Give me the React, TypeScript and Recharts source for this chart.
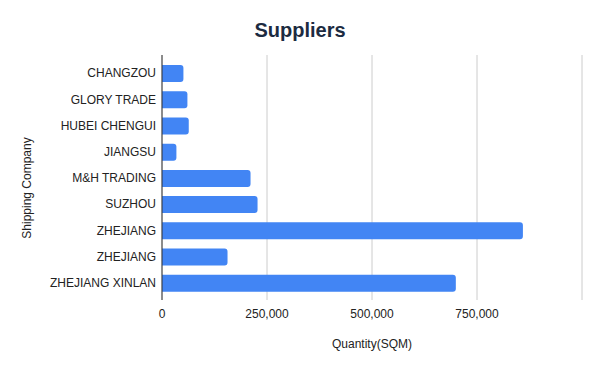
import React from "react";
import { BarChart, Bar, XAxis, YAxis, CartesianGrid } from "recharts";

// Supplier names, in display order (top to bottom)
const companies = [
  "CHANGZOU",
  "GLORY TRADE",
  "HUBEI CHENGUI",
  "JIANGSU",
  "M&H TRADING",
  "SUZHOU",
  "ZHEJIANG",
  "ZHEJIANG",
  "ZHEJIANG XINLAN",
];

// Quantity shipped by each supplier, in square metres
const quantities = [51000, 60500, 63700, 34300, 210800, 227500, 859300, 156000, 699600];

const xTicks = [0, 250000, 500000, 750000, 1000000];

const data = companies.map((company, i) => ({ company, quantity: quantities[i] }));

const FONT = "'Liberation Sans', Arial, sans-serif";

const formatTick = (v: number) => (v >= 1000000 ? "" : v.toLocaleString("en-US"));

export default function App() {
  return (
    <div style={{ position: "relative", width: 600, height: 371, fontFamily: FONT }}>
      <style>{`body{margin:0}`}</style>
      <div
        style={{
          position: "absolute",
          left: 0,
          top: 18,
          width: 600,
          textAlign: "center",
          fontSize: 20,
          fontWeight: 700,
          color: "#1c2b41",
          lineHeight: "24px",
        }}
      >
        Suppliers
      </div>
      <BarChart
        width={600}
        height={371}
        data={data}
        layout="vertical"
        margin={{ top: 55, right: 18, bottom: 0, left: 0 }}
      >
        <CartesianGrid horizontal={false} stroke="#cccccc" />
        <XAxis
          type="number"
          dataKey="quantity"
          domain={[0, 1000000]}
          ticks={xTicks}
          tickFormatter={formatTick}
          axisLine={false}
          tickLine={false}
          height={71}
          tick={{ fill: "#222222", fontSize: 12, fontFamily: FONT }}
          tickMargin={3}
          label={{
            content: () => (
              <text x={372} y={348} textAnchor="middle" fill="#222222" fontSize={12} fontFamily={FONT}>
                Quantity(SQM)
              </text>
            ),
          }}
        />
        <YAxis
          type="category"
          dataKey="company"
          width={162}
          padding={{ top: 5, bottom: 4 }}
          axisLine={{ stroke: "#333333" }}
          tickLine={false}
          interval={0}
          tickMargin={0}
          tick={{ fill: "#222222", fontSize: 12, fontFamily: FONT }}
          label={{
            content: () => (
              <text
                x={31}
                y={188}
                transform="rotate(-90 31 188)"
                textAnchor="middle"
                fill="#222222"
                fontSize={12}
                fontFamily={FONT}
              >
                Shipping Company
              </text>
            ),
          }}
        />
        <Bar dataKey="quantity" fill="#4285f4" barSize={17} radius={[0, 3, 3, 0]} isAnimationActive={false} />
      </BarChart>
    </div>
  );
}
